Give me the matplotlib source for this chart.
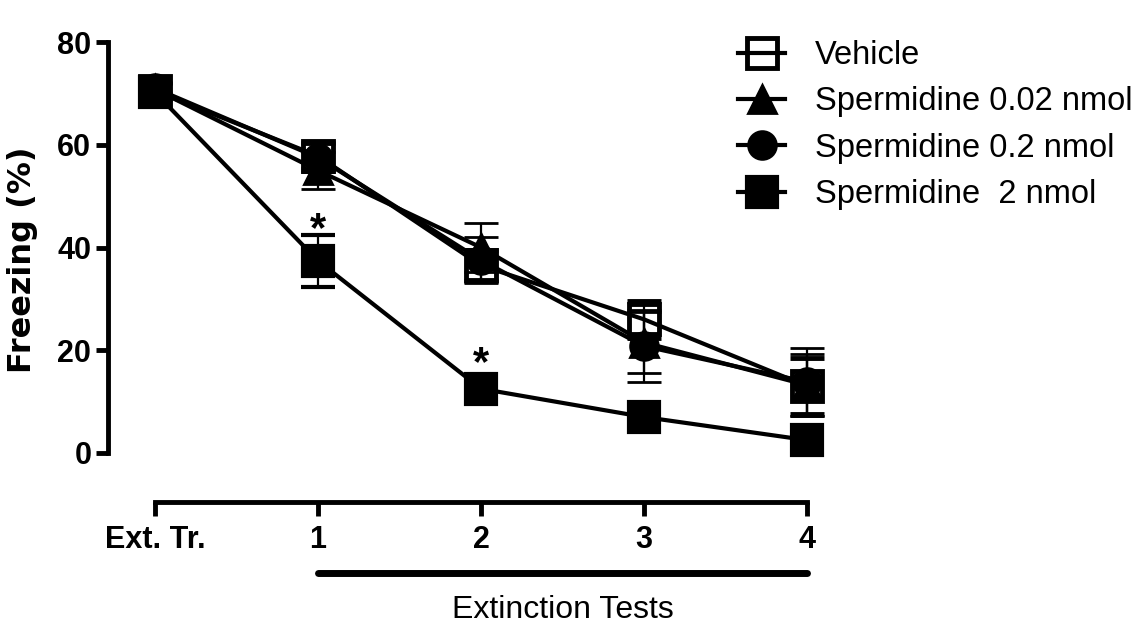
import matplotlib
matplotlib.use("Agg")
import matplotlib.pyplot as plt
import matplotlib.transforms as mtransforms
from matplotlib.lines import Line2D

plt.rcParams['font.family'] = ['Liberation Sans', 'DejaVu Sans']

x = [0, 1, 2, 3, 4]
x_labels = ['Ext. Tr.', '1', '2', '3', '4']

vehicle = [70.5, 57.8, 36.5, 26.0, 13.0]
vehicle_sem = [1.5, 2.5, 3.0, 3.6, 5.5]
sp002 = [70.8, 55.0, 40.0, 21.5, 13.2]
sp002_sem = [1.2, 3.6, 4.8, 6.0, 6.0]
sp02 = [71.0, 57.5, 37.5, 20.8, 13.8]
sp02_sem = [1.0, 2.8, 4.5, 7.0, 6.6]
sp2 = [70.2, 37.4, 12.5, 7.0, 2.5]
sp2_sem = [1.0, 5.1, 1.5, 1.5, 1.0]

labels = ['Vehicle', 'Spermidine 0.02 nmol', 'Spermidine 0.2 nmol', 'Spermidine  2 nmol']
star_x = [1, 2]
star_y = [39.5, 13.5]

fig = plt.figure(figsize=(11.42, 6.26), dpi=100)
ax = fig.add_axes([108/1142, 1-453/626, (848-108)/1142, (453-42)/626])

styles = [
    dict(marker='s', ms=22, mfc='none', mec='black', mew=3.5),
    dict(marker='^', ms=20, mfc='black', mec='black', mew=2),
    dict(marker='o', ms=20, mfc='black', mec='black', mew=2),
    dict(marker='s', ms=22, mfc='black', mec='black', mew=3),
]
series = [(vehicle, vehicle_sem), (sp002, sp002_sem), (sp02, sp02_sem), (sp2, sp2_sem)]

for (y, e), st in zip(series, styles):
    ax.errorbar(x, y, yerr=e, color='black', lw=3, elinewidth=1.6,
                capsize=12, capthick=1.6, clip_on=False, **st)

for sx, sy in zip(star_x, star_y):
    ax.text(sx, sy, '*', ha='center', va='bottom', fontsize=30, fontweight='bold')

ax.spines['top'].set_visible(False)
ax.spines['right'].set_visible(False)
ax.spines['left'].set_linewidth(3.5)
ax.spines['bottom'].set_linewidth(3.5)
ax.spines['bottom'].set_position(('outward', 35))
ax.spines['left'].set_bounds(0, 80)
ax.spines['bottom'].set_bounds(0, 4)
ax.spines['left'].set_capstyle('projecting')

ax.set_xlim(-0.288, 4.25)
ax.set_ylim(0, 80)
ax.set_yticks([0, 20, 40, 60, 80])
ax.set_xticks(x)
ax.tick_params(axis='y', length=9, width=3.5, pad=3, labelsize=22)
ax.tick_params(axis='x', length=10, width=3.5, pad=7, labelsize=22)
ax.set_xticklabels(x_labels, fontsize=22, fontweight='bold')
ax.set_yticklabels(['0', '20', '40', '60', '80'], fontsize=22, fontweight='bold')

# y label (drawn as axes text so its position can be matched)
ax.text(-0.115, 0.47, 'Freezing (%)', transform=ax.transAxes, rotation=90,
        ha='center', va='center', fontsize=23, fontweight='bold',
        family=['DejaVu Sans'])

trans = mtransforms.blended_transform_factory(ax.transData, ax.transAxes)
ax.plot([1, 4], [-0.292, -0.292], color='black', lw=5, solid_capstyle='round',
        transform=trans, clip_on=False)
ax.text(2.5, -0.382, 'Extinction Tests', transform=trans, ha='center', va='center',
        fontsize=23)

handles = [Line2D([], [], color='black', lw=3, **st) for st in styles]
leg = fig.legend(handles, labels, loc='upper left', bbox_to_anchor=(738/1142, 1-40/626),
                 frameon=False, fontsize=23.5, handlelength=1.45, handletextpad=0.9,
                 labelspacing=0.47, borderaxespad=0, borderpad=0)

fig.savefig('out.png', dpi=100)
